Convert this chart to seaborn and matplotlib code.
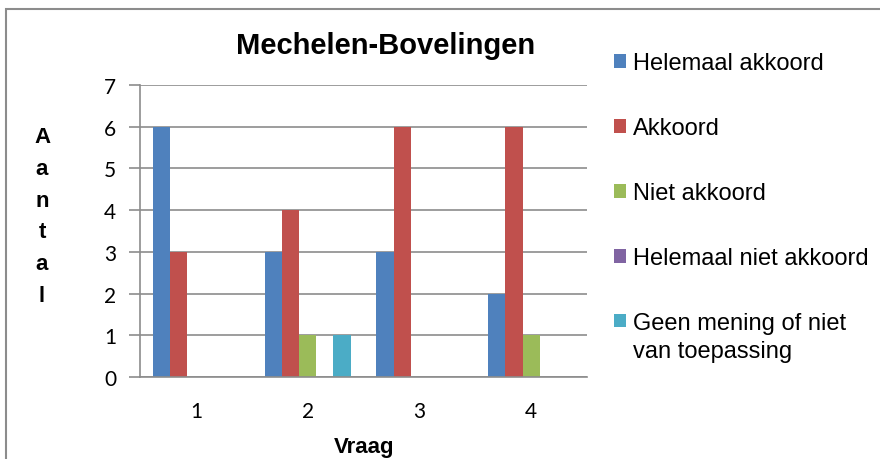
import numpy as np
import pandas as pd
import matplotlib
matplotlib.use("Agg")
import matplotlib.pyplot as plt
import seaborn as sns
from matplotlib.patches import Rectangle, Patch

# Data
vragen = ["1", "2", "3", "4"]
categorieen = ["Helemaal akkoord", "Akkoord", "Niet akkoord",
               "Helemaal niet akkoord", "Geen mening of niet\nvan toepassing"]
helemaal_akkoord = [6, 3, 3, 2]
akkoord = [3, 4, 6, 6]
niet_akkoord = [0, 1, 0, 1]
helemaal_niet_akkoord = [0, 0, 0, 0]
geen_mening = [0, 1, 0, 0]
kleuren = ["#4F81BD", "#C0504D", "#9BBB59", "#8064A2", "#4BACC6"]

data = pd.DataFrame({
    "Vraag": vragen * 5,
    "Antwoord": np.repeat(categorieen, 4),
    "Aantal": helemaal_akkoord + akkoord + niet_akkoord + helemaal_niet_akkoord + geen_mening,
})

sns.set_style("white")
plt.rcParams["font.family"] = ["Liberation Sans", "DejaVu Sans"]
plt.rcParams["text.color"] = "black"

fig = plt.figure(figsize=(8.8, 4.6), dpi=100)
ax = fig.add_axes([140 / 880, 1 - 378 / 460, 447 / 880, 292 / 460])

sns.barplot(x="Vraag", y="Aantal", hue="Antwoord", data=data, order=vragen,
            hue_order=categorieen, palette=kleuren, width=0.77, saturation=1,
            linewidth=0, legend=False, ax=ax)

ax.set_ylim(0, 7)
ax.set_yticks(range(0, 8))
ax.set_xlim(-0.5, 3.5)
ax.yaxis.grid(True, color="#8c8c8c", linewidth=1.2)
ax.set_axisbelow(True)
for s in ["top", "right"]:
    ax.spines[s].set_visible(False)
for s in ["left", "bottom"]:
    ax.spines[s].set_color("#8c8c8c")
    ax.spines[s].set_linewidth(1.2)

# Excel style tick marks: between categories on x
ax.set_xticks([0, 1, 2, 3])
ax.set_xticks([-0.5, 0.5, 1.5, 2.5, 3.5], minor=True)
ax.tick_params(left=True, bottom=True, labelcolor="black")
ax.tick_params(axis="x", which="major", length=0, pad=17, labelsize=15)
ax.tick_params(axis="x", which="minor", length=8, color="#8c8c8c", width=1.2)
ax.tick_params(axis="y", length=8, color="#8c8c8c", width=1.2, pad=9, labelsize=15)
for lbl in ax.get_xticklabels() + ax.get_yticklabels():
    lbl.set_family(["Lato", "DejaVu Sans"])

ax.set_xlabel("")
ax.set_ylabel("")
fig.text(364 / 880, 1 - 448 / 460, "Vraag", ha="center", va="center",
         fontsize=16, fontweight="bold")
fig.text(42 / 880, 1 - 217 / 460, "A\na\nn\nt\na\nl", ha="center", va="center",
         fontsize=16, fontweight="bold", linespacing=1.67)

fig.text(386 / 880, 1 - 46 / 460, "Mechelen-Bovelingen", ha="center", va="center",
         fontsize=21, fontweight="bold")

handles = [Patch(facecolor=c, edgecolor="none") for c in kleuren]
leg = fig.legend(handles, categorieen, loc="upper left", bbox_to_anchor=(605 / 880, 1 - 44 / 460),
                 frameon=False, fontsize=17, handlelength=0.5, handleheight=0.5,
                 handletextpad=0.3, labelspacing=1.82, borderaxespad=0)
for t in leg.get_texts():
    t.set_linespacing(1.35)
# marker of the two-line entry next to its first line, as in Excel
last = leg.legend_handles[-1]
last.set_y(last.get_y() + 12)

# Outer chart border (top and left visible)
fig.add_artist(Rectangle((6 / 880, -0.1), 1.1, 1.1 - 10 / 460, transform=fig.transFigure,
                         fill=False, edgecolor="#8c8c8c", linewidth=1.5))

fig.savefig("out.png", dpi=100)
